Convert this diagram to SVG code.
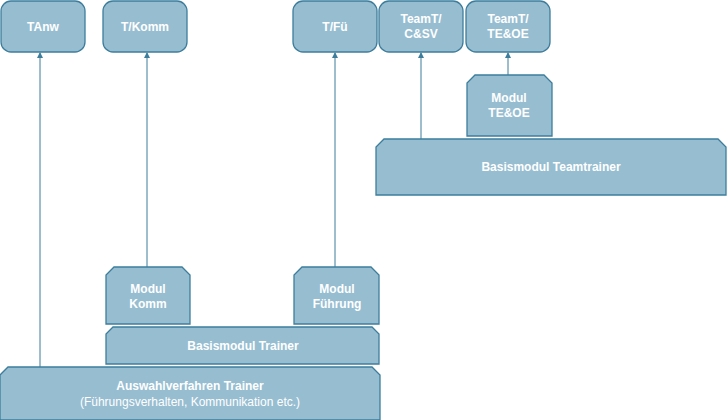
<svg xmlns="http://www.w3.org/2000/svg" width="727" height="420" viewBox="0 0 727 420">
<style>
.box{fill:#97bdd1;stroke:#3d7d9c;stroke-width:1.3}
.t{font-family:"Liberation Sans",Arial,sans-serif;font-size:12px;font-weight:bold;fill:#ffffff;text-anchor:middle}
.n{font-weight:normal}
.c{stroke:#3d7d9c;stroke-width:1;fill:none;marker-end:url(#ah)}
</style>
<defs>
<marker id="ah" viewBox="0 0 6 6" refX="5" refY="3" markerWidth="6" markerHeight="6" orient="auto" markerUnits="userSpaceOnUse">
<path d="M0,0 L6,3 L0,6 z" fill="#3d7d9c"/>
</marker>
</defs>
<rect width="727" height="420" fill="#ffffff"/>
<g id="connectors">
<line class="c" x1="40" y1="368" x2="40" y2="53"/>
<line class="c" x1="147" y1="267" x2="147" y2="53"/>
<line class="c" x1="335" y1="267" x2="335" y2="53"/>
<line class="c" x1="421" y1="139" x2="421" y2="53"/>
<line class="c" x1="508" y1="75" x2="508" y2="53"/>
</g>
<g id="tanw"><rect class="box" x="1" y="1" width="84" height="51" rx="10"/><text class="t" x="43" y="31">TAnw</text></g>
<g id="tkomm"><rect class="box" x="103" y="1" width="84" height="51" rx="10"/><text class="t" x="145" y="31">T/Komm</text></g>
<g id="tfu"><rect class="box" x="293" y="1" width="84" height="51" rx="10"/><text class="t" x="335" y="31">T/Fü</text></g>
<g id="teamtcsv"><rect class="box" x="379" y="1" width="84" height="51" rx="10"/><text class="t" x="421" y="23">TeamT/</text><text class="t" x="421" y="38">C&amp;SV</text></g>
<g id="teamtteoe"><rect class="box" x="466" y="1" width="84" height="51" rx="10"/><text class="t" x="508" y="23">TeamT/</text><text class="t" x="508" y="38">TE&amp;OE</text></g>
<g id="modulteoe"><path class="box" d="M467,136 L467,83 L475,75 L544,75 L552,83 L552,136 Z"/><text class="t" x="509" y="102">Modul</text><text class="t" x="509" y="117">TE&amp;OE</text></g>
<g id="basisteam"><path class="box" d="M376,195 L376,147 L384,139 L718,139 L726,147 L726,195 Z"/><text class="t" x="551" y="171">Basismodul Teamtrainer</text></g>
<g id="modulkomm"><path class="box" d="M106,324 L106,275 L114,267 L182,267 L190,275 L190,324 Z"/><text class="t" x="148" y="293">Modul</text><text class="t" x="148" y="308">Komm</text></g>
<g id="modulfuehrung"><path class="box" d="M294,324 L294,275 L302,267 L371,267 L379,275 L379,324 Z"/><text class="t" x="337" y="293">Modul</text><text class="t" x="337" y="308">Führung</text></g>
<g id="basistrainer"><path class="box" d="M106,364 L106,334 L113,327 L372,327 L379,334 L379,364 Z"/><text class="t" x="243" y="350">Basismodul Trainer</text></g>
<g id="auswahl"><path class="box" d="M0,420 L0,375 L8,367 L372,367 L380,375 L380,420 Z"/><text class="t" x="190" y="390">Auswahlverfahren Trainer</text><text class="t n" x="190" y="406">(Führungsverhalten, Kommunikation etc.)</text></g>
</svg>
